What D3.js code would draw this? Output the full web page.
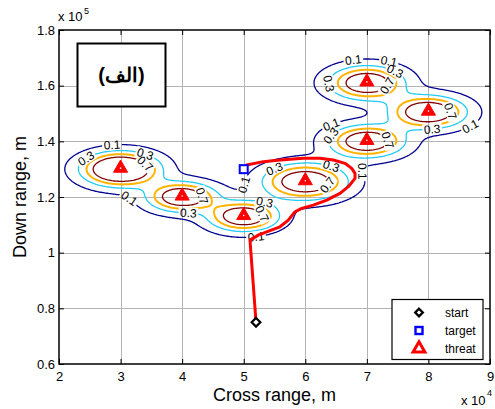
<!DOCTYPE html>
<html>
<head>
<meta charset="utf-8">
<script src="https://cdn.jsdelivr.net/npm/d3@7"></script>
<style>
  body { margin: 0; background: #fff; }
  svg { display: block; }
  text { font-family: "Liberation Sans", Arial, Helvetica, sans-serif; }
</style>
</head>
<body>
<svg id="chart" width="495" height="409"></svg>
<script>
// ---- axis ticks ----
const xTicks = [2, 3, 4, 5, 6, 7, 8, 9];
const yTicks = [0.6, 0.8, 1, 1.2, 1.4, 1.6, 1.8];
const yTickLabels = ["0.6", "0.8", "1", "1.2", "1.4", "1.6", "1.8"];

// ---- threats: cross range (x 10^4 m), down range (x 10^5 m), peak level, spread (m) ----
const threatX = [3, 4, 5, 6, 7, 8, 7];
const threatY = [1.3, 1.2, 1.13, 1.255, 1.61, 1.505, 1.4];
const threatPeak = [1.3, 1.0, 1.0, 1.0, 1.0, 1.05, 1.0];
const threatSpreadX = [4000, 3700, 3700, 4500, 4000, 4000, 4000];
const threatSpreadY = [3900, 3500, 3500, 4300, 4000, 3800, 3800];

// ---- threat contour levels ----
const contourLevels = [0.1, 0.3, 0.5, 0.7];

// ---- start / target ----
const startPoint = [5.2, 0.75];
const targetPoint = [5.0, 1.3];

// ---- planned route (start -> target) ----
const routeX = [5.2, 5.102, 5.237, 5.373, 5.589, 5.724, 5.833, 5.942, 6.130, 6.348, 6.564, 6.699, 6.808,
                6.808, 6.754, 6.645, 6.455, 6.239, 5.968, 5.589, 5.318, 5.049, 5.0];
const routeY = [0.75, 1.045, 1.063, 1.075, 1.093, 1.117, 1.147, 1.159, 1.171, 1.189, 1.213, 1.237, 1.267,
                1.285, 1.303, 1.321, 1.333, 1.339, 1.339, 1.333, 1.327, 1.315, 1.3];

// ---- contour label anchors (level, approx. position) ----
const labelLevel = [0.1, 0.3, 0.3, 0.7, 0.1, 0.7, 0.3, 0.1, 0.3, 0.7, 0.1, 0.3, 0.3, 0.7, 0.1,
                    0.1, 0.1, 0.3, 0.3, 0.7, 0.7, 0.3, 0.1, 0.1, 0.3, 0.7];
const labelX = [2.856, 2.476, 3.397, 3.343, 3.100, 4.344, 4.100, 4.912, 5.346, 5.297, 5.211, 5.536, 6.401, 6.320, 6.824,
                6.780, 7.348, 7.430, 6.429, 7.322, 8.323, 8.053, 8.675, 6.429, 6.429, 7.322];
const labelY = [1.387, 1.327, 1.354, 1.303, 1.183, 1.207, 1.129, 1.249, 1.195, 1.139, 1.052, 1.285, 1.291, 1.249, 1.285,
                1.686, 1.686, 1.644, 1.608, 1.602, 1.506, 1.441, 1.453, 1.459, 1.417, 1.405];

// ---- legend ----
const legendNames = ["start", "target", "threat"];

// ---------------------------------------------------------------
const svg = d3.select("#chart");
const plot = { left: 59, right: 490, top: 30, bottom: 364 };

const x = d3.scaleLinear().domain([2, 9]).range([plot.left, plot.right]);
const y = d3.scaleLinear().domain([0.6, 1.8]).range([plot.bottom, plot.top]);

const levelColor = d3.scaleOrdinal()
  .domain(contourLevels)
  .range(["#00008f", "#22ccf2", "#ffb400", "#800000"]);
const levelWidth = d3.scaleOrdinal().domain(contourLevels).range([1.3, 1.3, 2, 1.3]);

svg.append("rect").attr("width", 495).attr("height", 409).attr("fill", "#fff");

// grid
const grid = svg.append("g").attr("stroke", "#b4b4b4").attr("stroke-width", 1).attr("shape-rendering", "crispEdges");
grid.selectAll("line.vx").data(xTicks.slice(1, -1)).join("line")
  .attr("x1", d => Math.round(x(d)) + 0.5).attr("x2", d => Math.round(x(d)) + 0.5)
  .attr("y1", plot.top).attr("y2", plot.bottom);
grid.selectAll("line.hy").data(yTicks.slice(1, -1)).join("line")
  .attr("y1", d => Math.round(y(d)) + 0.5).attr("y2", d => Math.round(y(d)) + 0.5)
  .attr("x1", plot.left).attr("x2", plot.right);

// threat field sampled on a regular grid
const gx0 = 2, gy0 = 0.6, gdx = 0.02, gdy = 0.004;
const nx = Math.round((9 - 2) / gdx) + 1;
const ny = Math.round((1.8 - 0.6) / gdy) + 1;
const field = new Float64Array(nx * ny);
for (let j = 0; j < ny; j++) {
  const yy = gy0 + j * gdy;
  for (let i = 0; i < nx; i++) {
    const xx = gx0 + i * gdx;
    let v = 0;
    for (let k = 0; k < threatX.length; k++) {
      const ddx = (xx - threatX[k]) * 1e4, ddy = (yy - threatY[k]) * 1e5;
      v += threatPeak[k] * Math.exp(-(ddx * ddx) / (2 * threatSpreadX[k] ** 2) - (ddy * ddy) / (2 * threatSpreadY[k] ** 2));
    }
    field[j * nx + i] = v;
  }
}
const contours = d3.contours().size([nx, ny]).thresholds(contourLevels)(field);

const toPx = (c) => [x(gx0 + (c[0] - 0.5) * gdx), y(gy0 + (c[1] - 0.5) * gdy)];
const projection = d3.geoTransform({
  point(px, py) { const p = toPx([px, py]); this.stream.point(p[0], p[1]); }
});
const geoPath = d3.geoPath(projection);

const defs = svg.append("defs");
defs.append("clipPath").attr("id", "plotClip").append("rect")
  .attr("x", plot.left).attr("y", plot.top)
  .attr("width", plot.right - plot.left).attr("height", plot.bottom - plot.top);

// contour label placement along the lines
const labelG = svg.append("g").attr("font-size", 12).attr("fill", "#000");
const placed = [];
labelLevel.forEach((lev, idx) => {
  const c = contours.find(d => Math.abs(d.value - lev) < 1e-9);
  if (!c) return;
  const target = [x(labelX[idx]), y(labelY[idx])];
  let best = null;
  c.coordinates.forEach(poly => poly.forEach(ring => {
    const pts = ring.map(toPx);
    pts.forEach((p, k) => {
      const dd = (p[0] - target[0]) ** 2 + (p[1] - target[1]) ** 2;
      if (!best || dd < best.dd) best = { dd, pts, k };
    });
  }));
  if (!best) return;
  const n = best.pts.length;
  const p = best.pts[best.k];
  const a = best.pts[(best.k - 3 + n) % n], b = best.pts[(best.k + 3) % n];
  let ang = Math.atan2(b[1] - a[1], b[0] - a[0]) * 180 / Math.PI;
  if (ang > 90) ang -= 180;
  if (ang < -90) ang += 180;
  const t = labelG.append("text")
    .attr("transform", `translate(${p[0]},${p[1]}) rotate(${ang})`)
    .attr("text-anchor", "middle").attr("dy", "0.35em")
    .text(String(lev));
  placed.push({ p, ang, w: t.node().getComputedTextLength() });
});

// mask that breaks contour lines under their labels
const mask = defs.append("mask").attr("id", "labelGap").attr("maskUnits", "userSpaceOnUse")
  .attr("x", 0).attr("y", 0).attr("width", 495).attr("height", 409);
mask.append("rect").attr("width", 495).attr("height", 409).attr("fill", "#fff");
placed.forEach(d => {
  mask.append("rect")
    .attr("transform", `translate(${d.p[0]},${d.p[1]}) rotate(${d.ang})`)
    .attr("x", -d.w / 2 - 1.5).attr("y", -5.5).attr("width", d.w + 3).attr("height", 11)
    .attr("fill", "#000");
});

const contourG = svg.insert("g", () => labelG.node())
  .attr("clip-path", "url(#plotClip)")
  .attr("mask", "url(#labelGap)");
contourG.selectAll("path").data(contours).join("path")
  .attr("d", geoPath)
  .attr("fill", "none")
  .attr("stroke", d => levelColor(d.value))
  .attr("stroke-width", d => levelWidth(d.value))
  .attr("stroke-linejoin", "round");

// route
const route = d3.line().x((d, i) => x(routeX[i])).y((d, i) => y(routeY[i]));
svg.append("path").datum(routeX)
  .attr("d", route)
  .attr("fill", "none").attr("stroke", "#ff0000").attr("stroke-width", 3)
  .attr("stroke-linejoin", "round").attr("stroke-linecap", "round");

// threat markers
const tri = d3.symbol().type(d3.symbolTriangle).size(86);
svg.append("g").selectAll("g").data(threatX).join("g")
  .attr("transform", (d, i) => `translate(${x(threatX[i])},${y(threatY[i]) - 1})`)
  .call(g => {
    g.append("path").attr("d", tri).attr("fill", "#ff0000").attr("stroke", "#ff0000").attr("stroke-width", 1);
    g.append("circle").attr("r", 0.8).attr("fill", "#fff");
  });

// start and target markers
const diamond = d3.symbol().type(d3.symbolDiamond2).size(48);
svg.append("path").attr("d", diamond)
  .attr("transform", `translate(${x(startPoint[0])},${y(startPoint[1])})`)
  .attr("fill", "#fff").attr("stroke", "#000").attr("stroke-width", 2.2);
svg.append("rect")
  .attr("x", x(targetPoint[0]) - 4).attr("y", y(targetPoint[1]) - 4)
  .attr("width", 8).attr("height", 8)
  .attr("fill", "#fff").attr("stroke", "#0000ff").attr("stroke-width", 2);

// axes (ticks inward on all four sides)
const axisStyle = g => {
  g.select(".domain").remove();
  g.selectAll(".tick line").attr("stroke", "#000");
  g.selectAll("text").attr("font-size", 13).attr("fill", "#000");
};
svg.append("g").attr("transform", `translate(0,${plot.bottom})`)
  .call(d3.axisBottom(x).tickValues(xTicks).tickFormat(d3.format("d")).tickSizeInner(-5).tickSizeOuter(0).tickPadding(8))
  .call(axisStyle);
svg.append("g").attr("transform", `translate(0,${plot.top})`)
  .call(d3.axisTop(x).tickValues(xTicks).tickFormat("").tickSizeInner(-5).tickSizeOuter(0))
  .call(axisStyle);
svg.append("g").attr("transform", `translate(${plot.left},0)`)
  .call(d3.axisLeft(y).tickValues(yTicks).tickFormat((d, i) => yTickLabels[i]).tickSizeInner(-5).tickSizeOuter(0).tickPadding(4))
  .call(axisStyle);
svg.append("g").attr("transform", `translate(${plot.right},0)`)
  .call(d3.axisRight(y).tickValues(yTicks).tickFormat("").tickSizeInner(-5).tickSizeOuter(0))
  .call(axisStyle);

svg.append("rect")
  .attr("x", plot.left).attr("y", plot.top)
  .attr("width", plot.right - plot.left).attr("height", plot.bottom - plot.top)
  .attr("fill", "none").attr("stroke", "#000").attr("stroke-width", 1.5);

// axis labels and exponents
svg.append("text").attr("x", (plot.left + plot.right) / 2).attr("y", 401)
  .attr("text-anchor", "middle").attr("font-size", 18).text("Cross range, m");
svg.append("text").attr("transform", `translate(26,${(plot.top + plot.bottom) / 2}) rotate(-90)`)
  .attr("text-anchor", "middle").attr("font-size", 18).text("Down range, m");

svg.append("text").attr("x", 58).attr("y", 21).attr("font-size", 13).text("x 10");
svg.append("text").attr("x", 84).attr("y", 14).attr("font-size", 9).text("5");
svg.append("text").attr("x", 461).attr("y", 405).attr("font-size", 13).text("x 10");
svg.append("text").attr("x", 487).attr("y", 396).attr("font-size", 9).text("4");

// caption box
svg.append("rect").attr("x", 77.5).attr("y", 43.5).attr("width", 88).attr("height", 63)
  .attr("fill", "#fff").attr("stroke", "#000").attr("stroke-width", 2);
svg.append("text").attr("x", 121.5).attr("y", 82)
  .attr("text-anchor", "middle").attr("font-size", 20).attr("font-weight", "bold")
  .attr("font-family", "'DejaVu Sans', 'Noto Sans', sans-serif")
  .attr("direction", "rtl").text("(الف)");

// legend
const lg = svg.append("g");
lg.append("rect").attr("x", 392).attr("y", 299.5).attr("width", 91).attr("height", 60)
  .attr("fill", "#fff").attr("stroke", "#000").attr("stroke-width", 1.2);
const rowY = [312.5, 330.5, 348.5];
lg.append("path").attr("d", d3.symbol().type(d3.symbolDiamond2).size(36))
  .attr("transform", `translate(419,${rowY[0]})`)
  .attr("fill", "#fff").attr("stroke", "#000").attr("stroke-width", 2.4);
lg.append("rect").attr("x", 419 - 3.5).attr("y", rowY[1] - 3.5).attr("width", 7).attr("height", 7)
  .attr("fill", "#fff").attr("stroke", "#0000ff").attr("stroke-width", 2.4);
lg.append("path").attr("d", d3.symbol().type(d3.symbolTriangle).size(60))
  .attr("transform", `translate(419,${rowY[2]})`)
  .attr("fill", "#fff").attr("stroke", "#ff0000").attr("stroke-width", 3);
lg.selectAll("text.name").data(legendNames).join("text")
  .attr("x", 445).attr("y", (d, i) => rowY[i]).attr("dy", "0.35em")
  .attr("font-size", 12).text(d => d);
</script>
</body>
</html>
